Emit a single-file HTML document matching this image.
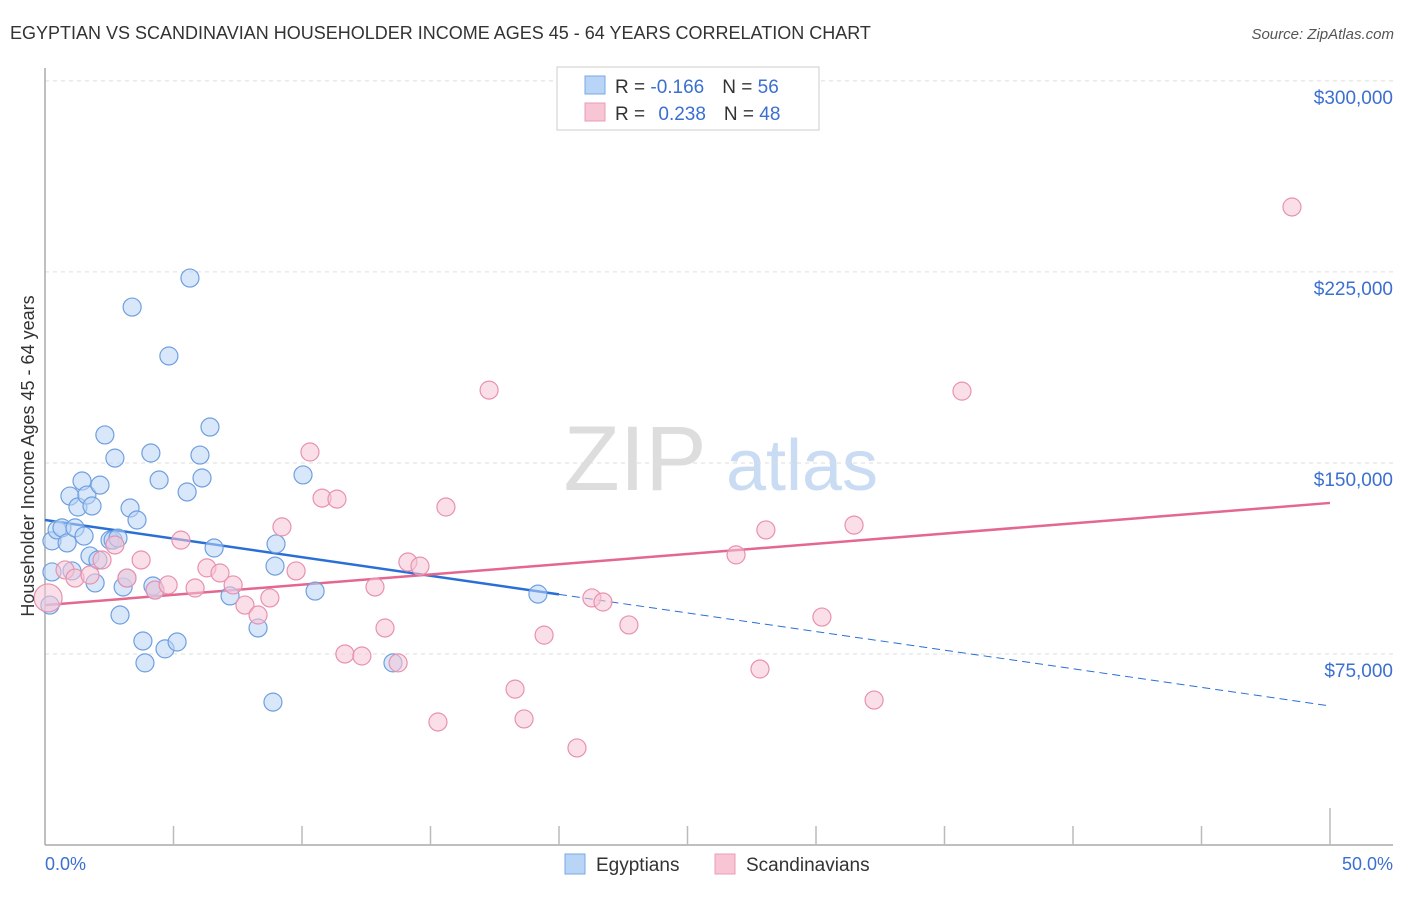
<!DOCTYPE html>
<html><head><meta charset="utf-8"><style>
body{margin:0;background:#fff;font-family:"Liberation Sans",sans-serif}
svg text{font-family:"Liberation Sans",sans-serif}
</style></head><body>
<svg id="chart" width="1406" height="892" viewBox="0 0 1406 892" xmlns="http://www.w3.org/2000/svg">
<text x="10" y="39" font-size="18" fill="#333">EGYPTIAN VS SCANDINAVIAN HOUSEHOLDER INCOME AGES 45 - 64 YEARS CORRELATION CHART</text>
<text x="1394" y="39" font-size="15" fill="#555" text-anchor="end" font-style="italic">Source: ZipAtlas.com</text>
<g>
<text x="635" y="490" font-size="92" fill="#ddd" font-family="Liberation Serif" text-anchor="middle">ZIP</text>
<text x="802" y="490" font-size="72" fill="#c9dcf3" text-anchor="middle">atlas</text>
</g>
<g id="grid"></g>
<g id="axes"></g>
<g id="trends"></g>
<g id="points"></g>
<text transform="translate(34,456) rotate(-90)" font-size="18" fill="#333" text-anchor="middle">Householder Income Ages 45 - 64 years</text>
<text x="45" y="870" font-size="18" fill="#3b6fd0">0.0%</text>
<text x="1393" y="870" font-size="18" fill="#3b6fd0" text-anchor="end">50.0%</text>
<g>
<rect x="557" y="67" width="262" height="63" fill="#fff" stroke="#ccc"/>
<rect x="585" y="76" width="20" height="18" fill="#b8d4f6" stroke="#7aa7e3"/>
<rect x="585" y="103" width="20" height="18" fill="#f8c5d5" stroke="#eb9cb6"/>
<text x="615" y="93" font-size="19" fill="#333">R = <tspan fill="#3b6fd0">-0.166</tspan><tspan dx="18">N = </tspan><tspan fill="#3b6fd0">56</tspan></text>
<text x="615" y="120" font-size="19" fill="#333">R = <tspan fill="#3b6fd0" dx="8">0.238</tspan><tspan dx="18">N = </tspan><tspan fill="#3b6fd0">48</tspan></text>
</g>
<g>
<rect x="565" y="854" width="20" height="20" fill="#b8d4f6" stroke="#7aa7e3"/>
<text x="596" y="871" font-size="19" fill="#333">Egyptians</text>
<rect x="715" y="854" width="20" height="20" fill="#f8c5d5" stroke="#eb9cb6"/>
<text x="746" y="871" font-size="19" fill="#333">Scandinavians</text>
</g>
</svg>
<script>
const yTicks=[75,150,225,300];
const yTickLabels=["$75,000","$150,000","$225,000","$300,000"];
const egyX=[0.27,0.19,0.27,0.47,0.66,0.86,0.97,1.05,1.17,1.28,1.44,1.52,1.63,1.75,1.83,1.95,2.14,2.06,2.33,2.53,2.72,2.65,2.84,2.92,3.04,3.19,3.31,3.39,3.58,3.81,3.89,4.12,4.20,4.28,4.44,4.67,4.82,5.14,5.53,5.64,6.03,6.11,6.42,6.58,7.20,8.29,8.87,8.99,8.95,10.04,10.51,13.54,19.18];
const egyY=[119.4,94.2,107.2,123.7,124.5,118.6,137.0,107.6,124.5,132.7,142.9,121.3,137.4,113.5,133.1,102.9,141.3,111.9,161.0,119.7,151.9,119.7,120.5,90.3,101.3,104.8,132.3,211.2,127.6,80.1,71.5,153.9,101.7,100.1,143.3,77.0,192.0,79.7,138.6,222.6,153.1,144.1,164.1,116.6,97.8,85.2,56.1,118.2,109.5,145.3,99.7,71.5,98.5];
const scaX=[0.12,0.78,1.17,1.75,2.22,2.72,3.19,3.74,4.28,4.79,5.29,5.84,6.30,6.81,7.32,7.78,8.29,8.75,9.22,9.77,10.31,10.78,11.36,11.67,12.33,12.84,13.23,13.74,14.12,14.59,15.29,15.60,17.28,18.29,18.64,19.42,20.70,21.28,21.71,22.72,26.89,27.82,28.05,30.23,31.48,32.26,35.68,48.52];
const scaY=[97.0,108.0,104.8,106.0,111.9,117.8,104.8,111.9,100.1,102.1,119.7,100.9,108.8,106.8,102.1,94.2,90.3,97.0,124.9,107.6,154.3,136.2,135.8,75.0,74.2,101.3,85.2,71.5,111.1,109.5,48.3,132.7,178.6,61.2,49.5,82.4,38.1,97.0,95.4,86.4,113.9,69.1,123.7,89.5,125.6,56.9,178.2,250.5];
const egyTrend=[127.6,54.6]; // y at x=0 and x=50
const egySolidEnd=20;
const scaTrend=[94.2,134.3];

const NS="http://www.w3.org/2000/svg";
const X=v=>45+v*25.7;
const Y=v=>845-v*2.547;
function mk(tag,attrs,parent){const e=document.createElementNS(NS,tag);for(const k in attrs)e.setAttribute(k,attrs[k]);parent.appendChild(e);return e;}
const grid=document.getElementById('grid'),axes=document.getElementById('axes'),trends=document.getElementById('trends'),pts=document.getElementById('points');
yTicks.forEach((t,i)=>{
 const l=mk('line',{x1:45,x2:1393,y1:Y(t),y2:Y(t),stroke:'#ddd','stroke-dasharray':'4,4'},grid);
 
 
 const tx=mk('text',{x:1393,y:Y(t)+23,'font-size':19,fill:'#3b6fd0','text-anchor':'end'},grid);
 tx.textContent=yTickLabels[i];
 
 
});
const ya=mk('line',{x1:45,x2:45,y1:68,y2:845,stroke:'#aaa','stroke-width':1.5},axes);


const xa=mk('line',{x1:45,x2:1393,y1:845,y2:845,stroke:'#aaa','stroke-width':1.5},axes);


for(let i=1;i<=10;i++){
 const tk=mk('line',{x1:X(i*5),x2:X(i*5),y1:i==10?808:826,y2:845,stroke:'#bbb','stroke-width':1.5},axes);
 
 
}
function drawPts(xs,ys,fill,stroke,name){
 xs.forEach((x,i)=>{
  const c=mk('circle',{cx:X(x),cy:Y(ys[i]),r:i==0&&name=='scandinavian-point'?14:9,fill:fill,'fill-opacity':0.55,stroke:stroke,'stroke-width':1.2},pts);
  
  
 });
}
drawPts(egyX,egyY,'#b8d4f6','#6f9fe0','egyptian-point');
drawPts(scaX,scaY,'#f8c5d5','#e891ae','scandinavian-point');
const ey=x=>egyTrend[0]+(egyTrend[1]-egyTrend[0])*x/50;
const t1=mk('line',{x1:X(0),y1:Y(ey(0)),x2:X(egySolidEnd),y2:Y(ey(egySolidEnd)),stroke:'#2a6fd6','stroke-width':2.5},trends);


const t2=mk('line',{x1:X(egySolidEnd),y1:Y(ey(egySolidEnd)),x2:X(50),y2:Y(ey(50)),stroke:'#2a6fd6','stroke-width':1,'stroke-dasharray':'8,5'},trends);


const t3=mk('line',{x1:X(0),y1:Y(scaTrend[0]),x2:X(50),y2:Y(scaTrend[1]),stroke:'#e4678f','stroke-width':2.5},trends);


</script>
</body></html>
